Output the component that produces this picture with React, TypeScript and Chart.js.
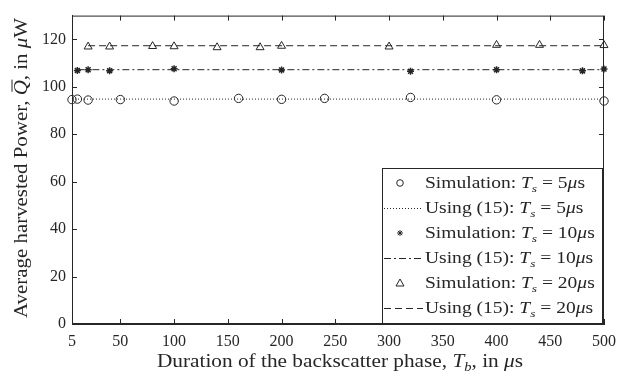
import { useEffect, useRef } from 'react';
import { Chart, registerables } from 'chart.js';

Chart.register(...registerables);

const FAM = '"Liberation Serif", "DejaVu Serif", serif';
const INK = '#262626';

const xTicks = [5, 50, 100, 150, 200, 250, 300, 350, 400, 450, 500];
const yTicks = [0, 20, 40, 60, 80, 100, 120];

const simX5 = [5, 10, 20, 50, 100, 160, 200, 240, 320, 400, 500];
const simY5 = [94.6, 94.8, 94.4, 94.6, 94.0, 95.1, 94.7, 95.1, 95.5, 94.5, 94.0];
const simX10 = [10, 20, 40, 100, 200, 320, 400, 480, 500];
const simY10 = [106.9, 107.2, 106.8, 107.6, 107.1, 106.5, 107.2, 106.7, 107.5];
const simX20 = [20, 40, 80, 100, 140, 180, 200, 300, 400, 440, 500];
const simY20 = [116.9, 116.9, 117.1, 117.0, 116.6, 116.6, 117.2, 116.9, 117.6, 117.6, 117.5];

const anaX5 = [5, 500];
const anaY5 = [94.8, 94.8];
const anaX10 = [10, 500];
const anaY10 = [107.2, 107.2];
const anaX20 = [20, 500];
const anaY20 = [117.3, 117.3];

const zip = (xs: number[], ys: number[]) => xs.map((x, i) => ({ x, y: ys[i] }));

type Seg = { t: string; i?: boolean; sub?: boolean };

const fontOf = (s: Seg, size: number) => `${s.i ? 'italic ' : ''}${s.sub ? Math.round(size * 0.7) : size}px ${FAM}`;

function measureRich(ctx: CanvasRenderingContext2D, segs: Seg[], size: number) {
  return segs.map((s) => {
    ctx.font = fontOf(s, size);
    return ctx.measureText(s.t).width;
  });
}

function drawRich(
  ctx: CanvasRenderingContext2D,
  segs: Seg[],
  x: number,
  y: number,
  size: number,
  align: 'left' | 'center',
  stretch: number,
) {
  const widths = measureRich(ctx, segs, size);
  const total = widths.reduce((a, b) => a + b, 0) * stretch;
  const sx = align === 'center' ? x - total / 2 : x;
  ctx.save();
  ctx.translate(sx, y);
  ctx.scale(stretch, 1);
  ctx.textBaseline = 'alphabetic';
  ctx.textAlign = 'left';
  let cx = 0;
  segs.forEach((s, k) => {
    ctx.font = fontOf(s, size);
    ctx.fillText(s.t, cx, s.sub ? size * 0.22 : 0);
    cx += widths[k];
  });
  ctx.restore();
  return { widths, startX: sx };
}

const legendRows = [
  { label: 'Simulation: ', ts: '5', kind: 'circle' },
  { label: 'Using (15): ', ts: '5', kind: 'dot' },
  { label: 'Simulation: ', ts: '10', kind: 'star' },
  { label: 'Using (15): ', ts: '10', kind: 'dashdot' },
  { label: 'Simulation: ', ts: '20', kind: 'triangle' },
  { label: 'Using (15): ', ts: '20', kind: 'dash' },
];

const legendSegs = (r: { label: string; ts: string }): Seg[] => [
  { t: r.label },
  { t: 'T', i: true },
  { t: 's', i: true, sub: true },
  { t: ' = ' + r.ts },
  { t: 'μ', i: true },
  { t: 's' },
];

const decorPlugin = {
  id: 'decor',
  afterDraw(chart: any) {
    const ctx: CanvasRenderingContext2D = chart.ctx;
    const { left, right, top, bottom } = chart.chartArea;
    const xs = chart.scales.x;
    const ys = chart.scales.y;
    ctx.save();
    ctx.strokeStyle = INK;
    ctx.lineWidth = 1;
    ctx.setLineDash([]);
    ctx.strokeRect(left + 0.5, top + 0.5, right - left - 1, bottom - top - 1);
    const tl = 5;
    ctx.beginPath();
    xTicks.forEach((v) => {
      const px = Math.round(xs.getPixelForValue(v)) + 0.5;
      ctx.moveTo(px, bottom);
      ctx.lineTo(px, bottom - tl);
      ctx.moveTo(px, top);
      ctx.lineTo(px, top + tl);
    });
    yTicks.forEach((v) => {
      const py = Math.round(ys.getPixelForValue(v)) + 0.5;
      ctx.moveTo(left, py);
      ctx.lineTo(left + tl, py);
      ctx.moveTo(right, py);
      ctx.lineTo(right - tl, py);
    });
    ctx.stroke();

    // x title
    ctx.fillStyle = INK;
    const segsX: Seg[] = [
      { t: 'Duration of the backscatter phase, ' },
      { t: 'T', i: true },
      { t: 'b', i: true, sub: true },
      { t: ', in ' },
      { t: 'μ', i: true },
      { t: 's' },
    ];
    const TS = 19;
    const wx = measureRich(ctx, segsX, TS).reduce((a, b) => a + b, 0);
    drawRich(ctx, segsX, 340, 367, TS, 'center', 366 / wx);

    // y title
    ctx.save();
    ctx.translate(27, 168);
    ctx.rotate(-Math.PI / 2);
    const segsY: Seg[] = [
      { t: 'Average harvested Power, ' },
      { t: 'Q', i: true },
      { t: ', in ' },
      { t: 'μ', i: true },
      { t: 'W' },
    ];
    const wyArr = measureRich(ctx, segsY, TS);
    const wy = wyArr.reduce((a, b) => a + b, 0);
    const sy = 300 / wy;
    const res = drawRich(ctx, segsY, 0, 0, TS, 'center', sy);
    const qx = res.startX + wyArr[0] * sy;
    const qw = wyArr[1] * sy;
    ctx.beginPath();
    ctx.moveTo(qx + 3.5, -15);
    ctx.lineTo(qx + qw + 0.5, -15);
    ctx.stroke();
    ctx.restore();

    // legend
    const lx0 = 382, lx1 = 603, ly0 = 168, ly1 = 324;
    ctx.fillStyle = '#ffffff';
    ctx.fillRect(lx0, ly0, lx1 - lx0, ly1 - ly0);
    ctx.strokeStyle = INK;
    ctx.strokeRect(lx0 + 0.5, ly0 + 0.5, lx1 - lx0 - 1, ly1 - ly0 - 1);
    const LS = 16;
    const w0 = measureRich(ctx, legendSegs(legendRows[0]), LS).reduce((a, b) => a + b, 0);
    const lstretch = 160 / w0;
    legendRows.forEach((r, k) => {
      const cy = 183 + 25 * k;
      const sx = 400;
      ctx.strokeStyle = INK;
      ctx.fillStyle = INK;
      ctx.lineWidth = 1;
      ctx.setLineDash([]);
      ctx.beginPath();
      if (r.kind === 'circle') {
        ctx.arc(sx, cy, 3.3, 0, Math.PI * 2);
        ctx.stroke();
      } else if (r.kind === 'star') {
        for (let a = 0; a < 4; a++) {
          const ang = (a * Math.PI) / 4;
          ctx.moveTo(sx - 3 * Math.cos(ang), cy - 3 * Math.sin(ang));
          ctx.lineTo(sx + 3 * Math.cos(ang), cy + 3 * Math.sin(ang));
        }
        ctx.stroke();
      } else if (r.kind === 'triangle') {
        ctx.moveTo(sx, cy - 4);
        ctx.lineTo(sx + 4, cy + 3);
        ctx.lineTo(sx - 4, cy + 3);
        ctx.closePath();
        ctx.stroke();
      } else {
        ctx.setLineDash(r.kind === 'dot' ? [1, 2] : r.kind === 'dashdot' ? [7, 3, 2, 3] : [7, 4]);
        ctx.moveTo(384, cy + 0.5);
        ctx.lineTo(423, cy + 0.5);
        ctx.stroke();
        ctx.setLineDash([]);
      }
      ctx.fillStyle = INK;
      drawRich(ctx, legendSegs(r), 425, cy + 5, LS, 'left', lstretch);
    });
    ctx.restore();
  },
};

export default function App() {
  const ref = useRef<HTMLCanvasElement | null>(null);
  useEffect(() => {
    if (!ref.current) return;
    const simBase = {
      showLine: false,
      borderColor: INK,
      backgroundColor: 'rgba(0,0,0,0)',
      borderWidth: 1,
      pointBorderWidth: 1,
      clip: false as any,
    };
    const lineBase = {
      showLine: true,
      borderColor: INK,
      borderWidth: 1,
      pointRadius: 0,
      fill: false,
      clip: false as any,
    };
    const chart = new Chart(ref.current, {
      type: 'line',
      data: {
        datasets: [
          { ...lineBase, label: 'Using (15): Ts = 5μs', data: zip(anaX5, anaY5), borderDash: [1, 2] },
          { ...lineBase, label: 'Using (15): Ts = 10μs', data: zip(anaX10, anaY10), borderDash: [7, 3, 2, 3] },
          { ...lineBase, label: 'Using (15): Ts = 20μs', data: zip(anaX20, anaY20), borderDash: [7, 4] },
          { ...simBase, label: 'Simulation: Ts = 5μs', data: zip(simX5, simY5), pointStyle: 'circle', pointRadius: 4.2 },
          { ...simBase, label: 'Simulation: Ts = 10μs', data: zip(simX10, simY10), pointStyle: 'star', pointRadius: 3.5, pointBorderWidth: 1.5 },
          { ...simBase, label: 'Simulation: Ts = 20μs', data: zip(simX20, simY20), pointStyle: 'triangle', pointRadius: 4.6 },
        ] as any,
      },
      options: {
        animation: false,
        responsive: false,
        devicePixelRatio: 1,
        layout: { padding: { left: 0, top: 5, right: 27, bottom: 0 } },
        plugins: { legend: { display: false }, tooltip: { enabled: false } },
        scales: {
          x: {
            type: 'linear',
            min: 5,
            max: 500,
            afterBuildTicks: (s: any) => { s.ticks = xTicks.map((v) => ({ value: v })); },
            afterFit: (s: any) => { s.height = 52; },
            grid: { display: false, drawTicks: false },
            border: { display: true, color: INK },
            ticks: { color: INK, font: { family: FAM, size: 16 }, padding: 8, autoSkip: false, maxRotation: 0 },
          },
          y: {
            type: 'linear',
            min: 0,
            max: 130,
            afterBuildTicks: (s: any) => { s.ticks = yTicks.map((v) => ({ value: v })); },
            afterFit: (s: any) => { s.width = 72; },
            grid: { display: false, drawTicks: false },
            border: { display: true, color: INK },
            ticks: { color: INK, font: { family: FAM, size: 16 }, padding: 6, autoSkip: false },
          },
        },
      },
      plugins: [decorPlugin],
    });
    return () => chart.destroy();
  }, []);
  return (
    <div style={{ position: 'absolute', left: 0, top: 0, width: 631, height: 376, background: '#fff' }}>
      <canvas ref={ref} width={631} height={376} style={{ display: 'block' }} />
    </div>
  );
}
